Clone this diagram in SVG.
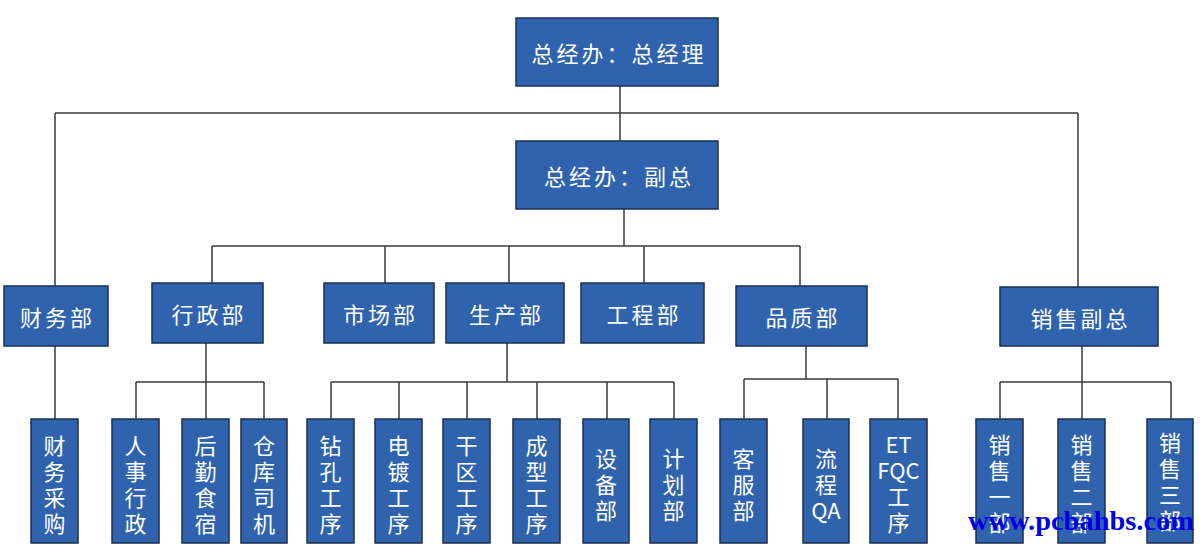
<svg xmlns="http://www.w3.org/2000/svg" width="1200" height="557" viewBox="0 0 1200 557">
<style>
.box{fill:#2F63AD;stroke:#1B2F52;stroke-width:1.5}
.t{fill:#fff;font-family:"Noto Sans CJK SC","Liberation Sans",sans-serif;font-size:22px;letter-spacing:3px;text-anchor:middle;dominant-baseline:central}
.v{fill:#fff;font-family:"Noto Sans CJK SC","Liberation Sans",sans-serif;font-size:22px;text-anchor:middle;dominant-baseline:central}
.ln{fill:none;stroke:#3A3A3A;stroke-width:1.5}
.wm{fill:#0000E6;font-family:"Liberation Serif",serif;font-weight:bold;font-size:28px}
</style>
<rect width="1200" height="557" fill="#fff"/>
<g id="connectors" class="ln">
<path d="M620 86V141"/>
<path d="M55 113H1078M55 113V286M1078 113V287"/>
<path d="M624 209V246M212 246H800M212 246V283M385 246V283M509 246V283M644 246V283M800 246V286"/>
<path d="M55 346V419"/>
<path d="M206 343V419M136 382H264M136 382V419M264 382V419"/>
<path d="M507 343V382M331 382H674M331 382V419M399 382V419M467 382V419M537 382V419M607 382V419M674 382V419"/>
<path d="M806 346V379M744 379H898M744 379V419M827 379V419M898 379V419"/>
<path d="M1082 346V419M1000 382H1171M1000 382V419M1171 382V419"/>
</g>
<g id="n-gm"><rect class="box" x="516" y="18" width="202" height="68"/><text class="t" x="619" y="52">总经办：总经理</text></g>
<g id="n-vp"><rect class="box" x="516" y="141" width="202" height="68"/><text class="t" x="619" y="175">总经办：副总</text></g>
<g id="n-fin"><rect class="box" x="4" y="286" width="104" height="60"/><text class="t" x="57.5" y="316">财务部</text></g>
<g id="n-adm"><rect class="box" x="152" y="283" width="111" height="60"/><text class="t" x="209" y="313">行政部</text></g>
<g id="n-mkt"><rect class="box" x="324" y="283" width="110" height="60"/><text class="t" x="380.5" y="313">市场部</text></g>
<g id="n-prd"><rect class="box" x="446" y="283" width="118" height="60"/><text class="t" x="506.5" y="313">生产部</text></g>
<g id="n-eng"><rect class="box" x="581" y="283" width="123" height="60"/><text class="t" x="644" y="313">工程部</text></g>
<g id="n-qa"><rect class="box" x="736" y="286" width="131" height="60"/><text class="t" x="803" y="316">品质部</text></g>
<g id="n-sales"><rect class="box" x="1000" y="287" width="158" height="59"/><text class="t" x="1080.5" y="316.5">销售副总</text></g>

<g id="n-purchase"><rect class="box" x="31" y="419" width="47" height="124"/><text class="v" x="54.5"><tspan x="54.5" y="444">财</tspan><tspan x="54.5" y="470">务</tspan><tspan x="54.5" y="496">采</tspan><tspan x="54.5" y="522">购</tspan></text></g>
<g id="n-hr"><rect class="box" x="112" y="419" width="47" height="124"/><text class="v"><tspan x="135.5" y="444">人</tspan><tspan x="135.5" y="470">事</tspan><tspan x="135.5" y="496">行</tspan><tspan x="135.5" y="522">政</tspan></text></g>
<g id="n-logi"><rect class="box" x="182" y="419" width="47" height="124"/><text class="v"><tspan x="205.5" y="444">后</tspan><tspan x="205.5" y="470">勤</tspan><tspan x="205.5" y="496">食</tspan><tspan x="205.5" y="522">宿</tspan></text></g>
<g id="n-wh"><rect class="box" x="241" y="419" width="46" height="124"/><text class="v"><tspan x="264" y="444">仓</tspan><tspan x="264" y="470">库</tspan><tspan x="264" y="496">司</tspan><tspan x="264" y="522">机</tspan></text></g>
<g id="n-drill"><rect class="box" x="307" y="419" width="47" height="124"/><text class="v"><tspan x="330.5" y="444">钻</tspan><tspan x="330.5" y="470">孔</tspan><tspan x="330.5" y="496">工</tspan><tspan x="330.5" y="522">序</tspan></text></g>
<g id="n-plate"><rect class="box" x="375" y="419" width="47" height="124"/><text class="v"><tspan x="398.5" y="444">电</tspan><tspan x="398.5" y="470">镀</tspan><tspan x="398.5" y="496">工</tspan><tspan x="398.5" y="522">序</tspan></text></g>
<g id="n-dry"><rect class="box" x="443" y="419" width="47" height="124"/><text class="v"><tspan x="466.5" y="444">干</tspan><tspan x="466.5" y="470">区</tspan><tspan x="466.5" y="496">工</tspan><tspan x="466.5" y="522">序</tspan></text></g>
<g id="n-form"><rect class="box" x="513" y="419" width="47" height="124"/><text class="v"><tspan x="536.5" y="444">成</tspan><tspan x="536.5" y="470">型</tspan><tspan x="536.5" y="496">工</tspan><tspan x="536.5" y="522">序</tspan></text></g>
<g id="n-equip"><rect class="box" x="583" y="419" width="46" height="124"/><text class="v"><tspan x="606" y="457">设</tspan><tspan x="606" y="483">备</tspan><tspan x="606" y="509">部</tspan></text></g>
<g id="n-plan"><rect class="box" x="650" y="419" width="47" height="124"/><text class="v"><tspan x="673.5" y="457">计</tspan><tspan x="673.5" y="483">划</tspan><tspan x="673.5" y="509">部</tspan></text></g>
<g id="n-cs"><rect class="box" x="720" y="419" width="47" height="124"/><text class="v"><tspan x="743.5" y="457">客</tspan><tspan x="743.5" y="483">服</tspan><tspan x="743.5" y="509">部</tspan></text></g>
<g id="n-pqa"><rect class="box" x="803" y="419" width="46" height="124"/><text class="v"><tspan x="826" y="457">流</tspan><tspan x="826" y="483">程</tspan><tspan x="826" y="509">QA</tspan></text></g>
<g id="n-etfqc"><rect class="box" x="870" y="419" width="57" height="124"/><text class="v"><tspan x="898.5" y="443">ET</tspan><tspan x="898.5" y="469">FQC</tspan><tspan x="898.5" y="495">工</tspan><tspan x="898.5" y="521">序</tspan></text></g>
<g id="n-s1"><rect class="box" x="976" y="419" width="47" height="124"/><text class="v"><tspan x="999.5" y="443">销</tspan><tspan x="999.5" y="469">售</tspan><tspan x="999.5" y="495">一</tspan><tspan x="999.5" y="521">部</tspan></text></g>
<g id="n-s2"><rect class="box" x="1058" y="419" width="47" height="124"/><text class="v"><tspan x="1081.5" y="443">销</tspan><tspan x="1081.5" y="469">售</tspan><tspan x="1081.5" y="495">二</tspan><tspan x="1081.5" y="521">部</tspan></text></g>
<g id="n-s3"><rect class="box" x="1147" y="419" width="46" height="124"/><text class="v"><tspan x="1170" y="441">销</tspan><tspan x="1170" y="467">售</tspan><tspan x="1170" y="493">三</tspan><tspan x="1170" y="519">部</tspan></text></g>
<text class="wm" x="968" y="530" textLength="226" lengthAdjust="spacingAndGlyphs">www.pcbahbs.com</text>
</svg>
